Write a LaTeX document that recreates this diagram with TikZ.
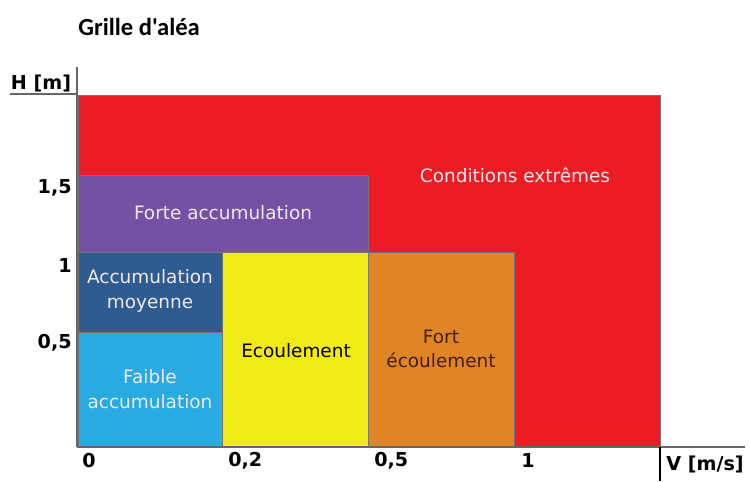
\documentclass[tikz,border=0pt]{standalone}
\usepackage{fontspec}
\setmainfont{DejaVu Sans}
\newfontfamily\titlefont{Carlito}
\usepackage{tikz}
\definecolor{c_rouge}{RGB}{237,28,36}
\definecolor{c_violet}{RGB}{118,80,165}
\definecolor{c_bleufonce}{RGB}{46,92,145}
\definecolor{c_bleuclair}{RGB}{41,171,226}
\definecolor{c_jaune}{RGB}{242,234,22}
\definecolor{c_orange}{RGB}{224,133,38}
\definecolor{c_texte}{RGB}{242,232,240}
\definecolor{c_brun}{RGB}{70,30,12}
\tikzstyle{zone_box} = [draw=black!55, line width=0.45pt]
\tikzstyle{txt_light} = [text=c_texte, align=center, inner sep=0pt, font=\fontsize{10.5}{14}\selectfont]
\tikzstyle{txt_dark} = [text=black, align=center, inner sep=0pt, font=\fontsize{10.5}{14}\selectfont]
\tikzstyle{txt_brown} = [text=c_brun, align=center, inner sep=0pt, font=\fontsize{10.5}{14}\selectfont]
\tikzstyle{axis_label} = [inner sep=0pt, font=\fontsize{10.9}{12}\selectfont\bfseries]
\tikzstyle{axis_line} = [draw=black!60, line width=0.6pt]

\begin{document}
\begin{tikzpicture}[x=0.02cm, y=-0.02cm]
			\useasboundingbox (0,0) rectangle (750,481);
			\filldraw[zone_box, fill=c_rouge] (78,95) rectangle (660,447);
			\filldraw[zone_box, fill=c_violet] (78,175) rectangle (368,252);
			\filldraw[zone_box, fill=c_bleufonce] (78,252) rectangle (222,332);
			\filldraw[zone_box, fill=c_bleuclair] (78,332) rectangle (222,447);
			\filldraw[zone_box, fill=c_jaune] (222,252) rectangle (368,447);
			\filldraw[zone_box, fill=c_orange] (368,252) rectangle (514,447);
			\draw[axis_line] (77,67) -- (77,447);
			\draw[axis_line] (10,94) -- (78,94);
			\draw[axis_line] (77,447) -- (745,447);
			\draw[axis_line, draw=black] (660,447) -- (660,481);
			\node (titre) at (78,27) [anchor=west, inner sep=0pt, font=\titlefont\bfseries\fontsize{14}{16}\selectfont] {Grille d'aléa};
			\node (cond) at (515,175) [txt_light] {Conditions extrêmes};
			\node (forte) at (223,213) [txt_light] {Forte accumulation};
			\node (moy) at (150,291) [txt_light] {Accumulation\\moyenne};
			\node (faible) at (150,389) [txt_light] {Faible\\accumulation};
			\node (ecoul) at (296,351) [txt_dark] {Ecoulement};
			\node (fort) at (441,349) [txt_brown] {Fort\\écoulement};
			\node (H) at (41,83) [axis_label] {H [m]};
			\node (V) at (705,464) [axis_label] {V [m/s]};
			\node (y15) at (72,188) [axis_label, anchor=east] {1,5};
			\node (y1) at (72,266) [axis_label, anchor=east] {1};
			\node (y05) at (72,343) [axis_label, anchor=east] {0,5};
			\node (x0) at (82,461) [axis_label, anchor=west] {0};
			\node (x02) at (228,461) [axis_label, anchor=west] {0,2};
			\node (x05) at (374,461) [axis_label, anchor=west] {0,5};
			\node (x1) at (521,461) [axis_label, anchor=west] {1};
		\end{tikzpicture}
\end{document}
